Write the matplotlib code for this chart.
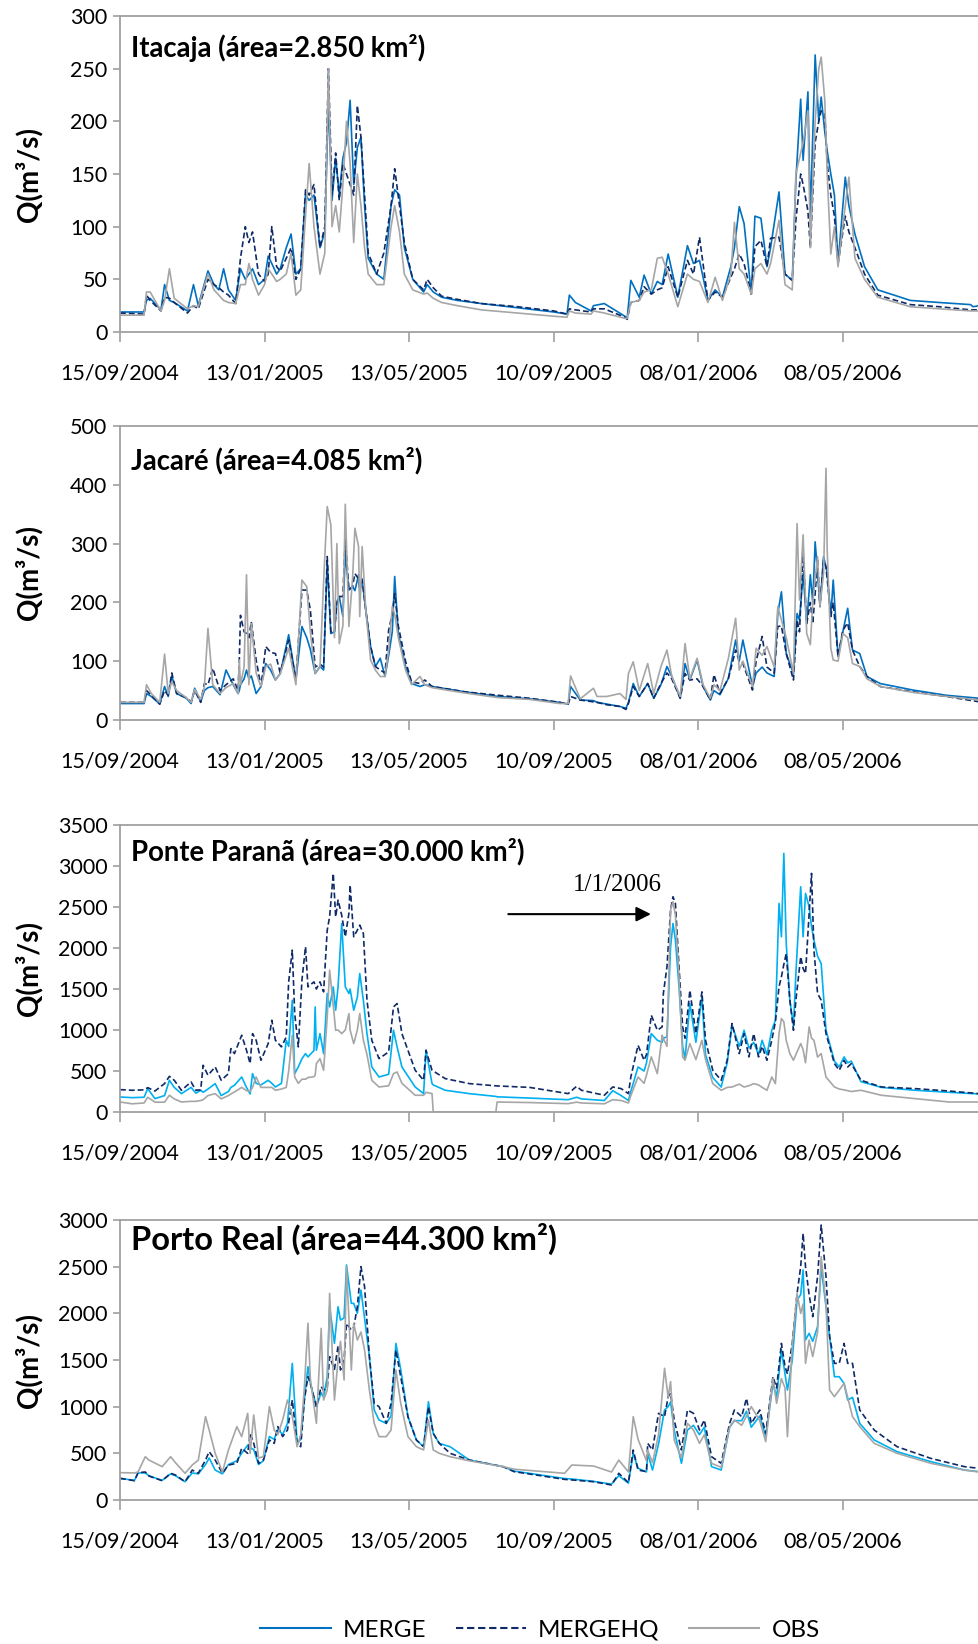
import numpy as np
import matplotlib
matplotlib.use("Agg")
import matplotlib.pyplot as plt
import matplotlib.dates as mdates
from matplotlib.lines import Line2D

plt.rcParams['font.family'] = ['Lato', 'DejaVu Sans']

inicio = np.datetime64('2004-09-15')
n_dias = 713

# --- Itacaja ---
ita_dias = [0, 20, 22, 25, 34, 37, 41, 45, 56, 61, 65, 73, 78, 82, 86, 90, 96, 100, 104, 107,
            110, 115, 120, 123, 126, 130, 133, 138, 142, 146, 150, 154, 157, 161, 166, 170, 173, 176, 179, 182,
            185, 188, 191, 194, 197, 200, 203, 206, 213, 219, 225, 228, 232, 236, 243, 252, 255, 260, 267, 280,
            300, 330, 360, 371, 373, 378, 391, 393, 402, 419, 421, 424, 431, 435, 441, 446, 450, 455, 463, 471,
            476, 481, 488, 494, 500, 507, 510, 514, 518, 524, 527, 532, 537, 540, 547, 552, 558, 561, 565, 567,
            571, 573, 577, 580, 582, 585, 587, 590, 593, 596, 602, 605, 610, 618, 629, 656, 680, 706, 708, 713]
ita_merge = [19, 19, 30, 32, 21, 45, 30, 28, 20, 45, 25, 58, 45, 40, 60, 40, 30, 60, 50, 55,
             60, 45, 50, 72, 65, 55, 60, 80, 93, 55, 60, 130, 125, 130, 80, 95, 220, 125, 165, 130,
             165, 180, 220, 140, 175, 185, 120, 70, 55, 50, 120, 135, 130, 80, 50, 38, 45, 38, 33, 30,
             27, 23, 19, 17, 35, 28, 20, 25, 27, 15, 13, 49, 33, 54, 36, 48, 45, 74, 33, 82,
             65, 68, 30, 40, 33, 62, 80, 119, 103, 36, 110, 108, 62, 80, 133, 55, 49, 144, 221, 163,
             228, 109, 263, 200, 223, 190, 172, 150, 130, 65, 147, 120, 93, 62, 40, 30, 28, 26, 24, 25]
ita_mergehq = [18, 17, 35, 30, 20, 33, 32, 28, 18, 25, 22, 50, 45, 42, 38, 35, 27, 70, 100, 85,
               95, 55, 48, 55, 100, 62, 58, 70, 80, 50, 60, 135, 130, 140, 80, 100, 250, 130, 170, 125,
               160, 150, 140, 130, 215, 185, 130, 75, 55, 75, 120, 155, 120, 85, 50, 40, 50, 42, 34, 31,
               27, 24, 20, 17, 22, 21, 19, 22, 22, 14, 12, 28, 30, 43, 36, 40, 42, 62, 33, 68,
               55, 90, 30, 38, 33, 52, 60, 74, 65, 36, 81, 87, 62, 89, 90, 55, 49, 106, 150, 140,
               115, 80, 180, 200, 210, 207, 160, 130, 110, 65, 110, 95, 80, 55, 35, 26, 24, 21, 21, 21]
ita_obs = [16, 16, 38, 38, 20, 30, 60, 32, 22, 25, 24, 55, 40, 35, 30, 28, 27, 45, 45, 65,
           50, 35, 45, 60, 55, 48, 50, 55, 75, 35, 40, 110, 160, 100, 55, 75, 250, 100, 120, 95,
           140, 200, 160, 85, 150, 120, 80, 55, 45, 45, 100, 120, 95, 55, 40, 36, 37, 32, 28, 25,
           21, 18, 15, 14, 20, 18, 17, 20, 18, 13, 13, 28, 30, 38, 40, 70, 71, 55, 24, 55,
           50, 48, 28, 52, 30, 55, 104, 60, 55, 36, 60, 65, 55, 65, 106, 45, 40, 150, 170, 180,
           210, 80, 200, 250, 261, 220, 150, 74, 100, 62, 120, 147, 70, 50, 33, 24, 22, 20, 20, 20]

# --- Jacaré ---
jac_dias = [0, 20, 22, 26, 33, 37, 40, 43, 47, 55, 59, 62, 67, 70, 73, 77, 83, 88, 94, 98,
            99, 100, 103, 105, 107, 109, 113, 117, 121, 125, 129, 133, 140, 146, 151, 155, 158, 162, 166, 169,
            172, 175, 178, 180, 182, 185, 187, 190, 193, 195, 198, 199, 201, 204, 208, 212, 216, 220, 223, 226,
            228, 231, 237, 242, 249, 253, 259, 286, 314, 340, 365, 372, 374, 382, 393, 396, 404, 415, 420, 422,
            426, 431, 438, 443, 449, 454, 458, 465, 469, 473, 479, 484, 490, 493, 498, 505, 511, 514, 517, 525,
            528, 533, 537, 543, 546, 549, 553, 559, 562, 564, 567, 570, 573, 575, 577, 579, 581, 584, 586, 587,
            590, 592, 596, 600, 604, 608, 614, 620, 631, 658, 686, 713]
jac_merge = [28, 28, 45, 40, 27, 57, 40, 75, 45, 37, 28, 54, 31, 50, 55, 57, 43, 85, 60, 45,
             50, 60, 70, 85, 70, 75, 45, 57, 96, 85, 68, 79, 145, 68, 159, 140, 120, 79, 91, 85,
             270, 147, 150, 200, 210, 176, 283, 221, 227, 220, 247, 220, 240, 187, 125, 91, 105, 74, 110, 150,
             244, 147, 91, 62, 57, 60, 57, 48, 40, 36, 30, 27, 57, 34, 33, 30, 27, 23, 20, 30,
             62, 40, 62, 37, 60, 91, 74, 37, 96, 68, 102, 57, 34, 50, 43, 71, 136, 100, 136, 57,
             80, 90, 80, 74, 181, 218, 113, 79, 181, 170, 249, 164, 247, 200, 303, 250, 193, 278, 260, 249,
             176, 238, 108, 150, 190, 119, 113, 74, 62, 51, 42, 37]
jac_mergehq = [30, 30, 50, 42, 27, 50, 42, 80, 45, 38, 31, 50, 30, 62, 60, 88, 50, 60, 70, 50,
               100, 178, 150, 147, 140, 167, 102, 57, 125, 115, 113, 80, 136, 70, 221, 221, 187, 90, 95, 90,
               278, 150, 150, 200, 210, 210, 309, 221, 227, 249, 240, 220, 238, 187, 125, 91, 85, 80, 153, 180,
               215, 160, 100, 65, 62, 68, 57, 48, 42, 37, 30, 27, 40, 34, 31, 30, 26, 23, 18, 28,
               57, 40, 62, 37, 62, 80, 70, 37, 79, 68, 70, 57, 34, 77, 45, 71, 119, 100, 96, 51,
               100, 142, 90, 80, 159, 160, 113, 68, 170, 150, 283, 164, 200, 164, 215, 272, 193, 272, 260, 240,
               176, 200, 108, 153, 165, 119, 91, 74, 57, 48, 40, 31]
jac_obs = [30, 30, 60, 45, 30, 112, 45, 65, 50, 38, 30, 52, 35, 55, 156, 60, 45, 55, 62, 45,
           102, 60, 90, 247, 60, 164, 80, 57, 91, 95, 68, 79, 122, 60, 238, 227, 150, 79, 90, 235,
           363, 332, 140, 300, 130, 160, 367, 159, 240, 326, 295, 176, 295, 187, 102, 85, 74, 74, 120, 193,
           180, 140, 85, 60, 74, 60, 55, 46, 38, 35, 28, 28, 75, 36, 54, 40, 40, 45, 35, 79,
           99, 50, 96, 45, 91, 119, 74, 40, 130, 70, 105, 60, 37, 60, 50, 105, 173, 85, 100, 57,
           122, 110, 125, 90, 193, 170, 140, 80, 334, 204, 315, 147, 128, 200, 240, 278, 193, 250, 428, 289,
           122, 102, 100, 147, 140, 96, 91, 70, 57, 47, 40, 34]

# --- Ponte Paranã ---
pp_dias = [0, 10, 20, 23, 29, 37, 41, 45, 51, 59, 63, 67, 69, 73, 79, 84, 90, 92, 95, 101,
           105, 108, 110, 113, 117, 123, 126, 129, 134, 138, 140, 143, 145, 148, 151, 154, 156, 161, 162, 163,
           166, 169, 172, 174, 177, 179, 181, 184, 187, 190, 191, 194, 197, 199, 202, 205, 209, 215, 223, 227,
           230, 234, 245, 252, 254, 259, 260, 270, 290, 312, 313, 340, 372, 379, 383, 402, 409, 416, 422, 424,
           430, 435, 437, 441, 446, 450, 451, 454, 457, 459, 461, 464, 467, 469, 473, 478, 483, 486, 492, 499,
           504, 508, 514, 518, 522, 526, 530, 533, 537, 541, 544, 547, 549, 551, 553, 556, 559, 561, 565, 567,
           569, 572, 574, 576, 579, 582, 586, 593, 597, 601, 604, 607, 615, 632, 660, 688, 713]
pp_merge = [183, 175, 180, 285, 163, 200, 387, 300, 224, 300, 230, 265, 240, 280, 346, 200, 250, 300, 326, 427,
            300, 220, 468, 350, 330, 387, 350, 305, 350, 875, 800, 1363, 468, 549, 650, 712, 672, 750, 1282, 753,
            956, 712, 1445, 1282, 1526, 1241, 1526, 2300, 1526, 1445, 1500, 1241, 1400, 1689, 1363, 956, 549, 427, 460, 997,
            794, 549, 305, 224, 753, 346, 330, 265, 224, 190, 185, 170, 150, 180, 160, 140, 260, 200, 140, 250,
            549, 500, 600, 956, 875, 850, 900, 916, 2015, 2300, 2096, 1526, 800, 650, 1323, 850, 1400, 700, 420, 305,
            600, 1060, 800, 997, 780, 850, 700, 875, 700, 997, 1119, 2544, 2137, 3154, 2055, 1363, 1050, 1689, 2747, 2137,
            2666, 2503, 2259, 2096, 1900, 1811, 1000, 620, 550, 672, 600, 620, 370, 300, 265, 240, 220]
pp_mergehq = [273, 265, 270, 297, 256, 346, 435, 387, 265, 366, 265, 270, 570, 448, 550, 387, 468, 773, 712, 936,
              753, 590, 956, 875, 631, 834, 1119, 875, 794, 916, 1587, 1974, 1200, 794, 1607, 2015, 1526, 1587, 1550, 1500,
              1587, 1465, 2218, 2381, 2910, 2381, 2584, 2401, 2137, 2422, 2768, 2137, 2218, 2279, 2177, 1363, 875, 651, 733, 1282,
              1322, 956, 509, 387, 753, 509, 500, 407, 346, 320, 318, 300, 224, 313, 265, 204, 305, 285, 224, 427,
              814, 631, 700, 1180, 997, 1038, 1445, 1770, 2462, 2625, 2544, 1770, 1038, 900, 1485, 956, 1465, 875, 509, 387,
              631, 1079, 712, 956, 672, 956, 672, 800, 631, 875, 1100, 1526, 1648, 1800, 1933, 1363, 997, 1363, 1893, 1750,
              1689, 2422, 2910, 1974, 1445, 1363, 956, 590, 509, 631, 549, 590, 387, 305, 285, 256, 224]
pp_obs = [122, 100, 110, 180, 120, 120, 204, 160, 122, 130, 130, 140, 150, 200, 224, 160, 200, 220, 244, 300,
          260, 250, 300, 427, 300, 300, 300, 265, 280, 300, 500, 936, 427, 350, 400, 400, 420, 430, 450, 590,
          651, 509, 1160, 1730, 1300, 997, 1000, 956, 1000, 1200, 1000, 834, 1000, 1200, 875, 700, 387, 305, 320, 468,
          488, 350, 204, 204, 240, 224, 0, 0, 0, 0, 122, 115, 102, 120, 110, 100, 150, 140, 110, 200,
          427, 350, 450, 672, 468, 936, 900, 800, 2462, 2564, 2400, 1650, 672, 631, 834, 640, 875, 640, 346, 265,
          300, 305, 340, 305, 320, 346, 330, 300, 265, 427, 346, 956, 1140, 1100, 875, 712, 631, 700, 834, 760,
          600, 1038, 900, 875, 670, 712, 427, 305, 280, 270, 260, 250, 265, 204, 163, 122, 122]

# --- Porto Real ---
pr_dias = [0, 12, 15, 21, 24, 35, 42, 46, 54, 60, 65, 71, 74, 79, 85, 90, 97, 101, 106, 108,
           111, 115, 119, 124, 128, 131, 135, 139, 143, 147, 150, 153, 156, 158, 163, 167, 169, 172, 174, 178,
           181, 183, 186, 188, 192, 194, 197, 200, 203, 207, 211, 215, 221, 225, 229, 233, 239, 246, 252, 256,
           260, 265, 274, 290, 318, 327, 369, 375, 393, 408, 414, 422, 426, 430, 437, 438, 442, 447, 452, 455,
           457, 460, 466, 471, 476, 481, 485, 491, 499, 506, 510, 516, 520, 524, 531, 536, 542, 545, 549, 552,
           554, 558, 562, 565, 567, 569, 572, 575, 579, 582, 586, 589, 593, 597, 601, 604, 608, 614, 626, 645,
           673, 701, 713]
pr_merge = [232, 210, 290, 290, 260, 210, 280, 260, 196, 290, 280, 380, 450, 321, 280, 380, 420, 500, 589, 560,
            540, 380, 420, 680, 650, 760, 700, 821, 1464, 607, 650, 1071, 1428, 1250, 1000, 1150, 1100, 1321, 2071, 1678,
            2071, 1928, 1950, 2518, 2107, 2107, 2000, 2250, 1950, 1536, 964, 857, 821, 900, 1678, 1400, 893, 643, 571, 1053,
            714, 607, 571, 428, 357, 310, 230, 225, 200, 170, 260, 180, 500, 340, 300, 500, 321, 600, 964, 1000,
            1050, 750, 393, 750, 800, 700, 780, 357, 321, 780, 850, 850, 950, 780, 900, 680, 1250, 1100, 1607, 1350,
            1178, 1500, 2143, 2200, 2464, 1714, 1786, 1700, 1857, 2500, 2071, 1750, 1321, 1321, 1250, 1071, 1100, 821, 643, 518,
            411, 321, 304]
pr_mergehq = [232, 207, 293, 300, 257, 207, 286, 268, 196, 321, 286, 428, 518, 428, 286, 375, 393, 554, 500, 714,
              607, 393, 428, 643, 607, 786, 679, 750, 1071, 607, 571, 1071, 1321, 1250, 1000, 1214, 1178, 1200, 1536, 1400,
              1650, 1393, 1500, 1893, 1821, 1850, 2071, 2500, 2286, 1536, 1036, 1000, 821, 1036, 1607, 1321, 893, 643, 571, 1000,
              714, 607, 500, 428, 357, 304, 221, 215, 196, 161, 286, 186, 536, 321, 304, 607, 536, 929, 893, 1107,
              1143, 857, 536, 964, 929, 750, 857, 464, 393, 821, 964, 893, 1089, 821, 964, 714, 1321, 1200, 1678, 1428,
              1350, 1678, 2214, 2500, 2857, 2500, 2200, 1964, 2393, 2946, 2393, 1750, 1464, 1464, 1678, 1464, 1464, 964, 750, 571,
              446, 357, 339]
pr_obs = [293, 290, 300, 464, 428, 357, 464, 400, 286, 375, 428, 893, 750, 500, 300, 536, 786, 679, 929, 500,
          911, 450, 464, 1000, 750, 700, 857, 1071, 900, 571, 700, 1200, 1893, 1300, 821, 1839, 1071, 1178, 2214, 1071,
          1500, 1700, 1286, 2500, 1393, 1893, 1714, 1800, 1607, 1178, 821, 679, 679, 750, 1393, 1036, 679, 571, 536, 857,
          536, 500, 464, 420, 357, 330, 286, 375, 364, 300, 428, 300, 893, 650, 420, 536, 400, 700, 1411, 1100,
          1268, 643, 450, 821, 750, 607, 700, 393, 350, 780, 857, 800, 900, 1000, 850, 625, 1300, 1036, 1300, 1200,
          679, 1650, 2214, 2000, 2100, 1464, 1714, 1536, 1800, 2607, 2100, 1178, 1107, 1178, 1250, 1100, 893, 786, 607, 500,
          393, 320, 300]

paineis = [
    ("Itacaja (área=2.850 km²)", ita_dias, ita_merge, ita_mergehq, ita_obs, 300, 50, '#0070C0', 19.8),
    ("Jacaré (área=4.085 km²)", jac_dias, jac_merge, jac_mergehq, jac_obs, 500, 100, '#0070C0', 19.8),
    ("Ponte Paranã (área=30.000 km²)", pp_dias, pp_merge, pp_mergehq, pp_obs, 3500, 500, '#00B0F0', 19.8),
    ("Porto Real (área=44.300 km²)", pr_dias, pr_merge, pr_mergehq, pr_obs, 3000, 500, '#00B0F0', 23.5),
]

# posicoes em pixels (topo, base) de cada painel
caixas = [(16, 332), (426, 720), (825, 1112), (1220, 1500)]
titulo_y = [0.90, 0.881, 0.906, 0.932]

W, H = 979, 1644
fig = plt.figure(figsize=(W / 100, H / 100), dpi=100)
cinza = '#A0A0A0'
cor_hq = '#0F2A66'
cor_obs = '#A6A6A6'

ticks = [inicio + np.timedelta64(120 * k, 'D') for k in range(6)]

for i, (titulo, dias, merge, mergehq, obs, ymax, ystep, cor_merge, fs_tit) in enumerate(paineis):
    topo, base = caixas[i]
    ax = fig.add_axes([120 / W, 1 - base / H, (W - 120) / W, (base - topo) / H])
    x = inicio + np.array(dias).astype('timedelta64[D]')
    ax.plot(x, merge, color=cor_merge, lw=1.2)
    ax.plot(x, mergehq, color=cor_hq, lw=1.2, dashes=(3.5, 1.8))
    ax.plot(x, obs, color=cor_obs, lw=1.2)

    ax.set_xlim(inicio, inicio + np.timedelta64(n_dias, 'D'))
    ax.set_ylim(0, ymax)
    ax.set_yticks(np.arange(0, ymax + 1, ystep))
    ax.set_xticks(ticks)
    ax.xaxis.set_major_formatter(mdates.DateFormatter('%d/%m/%Y'))
    ax.tick_params(axis='x', direction='out', length=7, width=1.2, color=cinza, pad=16, labelsize=15.5)
    ax.tick_params(axis='y', direction='out', length=5, width=1.2, color=cinza, pad=4, labelsize=15.5)
    for s in ax.spines.values():
        s.set_color(cinza)
        s.set_linewidth(1.3)

    ax.set_ylabel("Q(m³/s)", fontsize=20, fontweight='bold')
    ax.yaxis.set_label_coords(-0.09, 0.5)
    ax.text(0.013, titulo_y[i], titulo, transform=ax.transAxes, fontsize=fs_tit,
            fontweight='bold', va='center', ha='left')

    if i == 2:
        ax.annotate('', xy=(inicio + np.timedelta64(443, 'D'), 2413),
                    xytext=(inicio + np.timedelta64(320, 'D'), 2413),
                    arrowprops=dict(arrowstyle='-|>', color='black', lw=1.5, mutation_scale=22))
        ax.text(inicio + np.timedelta64(413, 'D'), 2770, "1/1/2006", fontsize=18,
                family=['Liberation Serif', 'DejaVu Serif'], ha='center', va='center')

handles = [Line2D([], [], color='#0070C0', lw=1.5),
           Line2D([], [], color=cor_hq, lw=1.5, dashes=(3.5, 1.8)),
           Line2D([], [], color=cor_obs, lw=1.5)]
fig.legend(handles, ['MERGE', 'MERGEHQ', 'OBS'], loc='center', bbox_to_anchor=(540 / W, 1 - 1630 / H),
           ncol=3, frameon=False, fontsize=17.5, handlelength=2.9, columnspacing=1.2, handletextpad=0.5,
           borderpad=0.1)

fig.savefig('out.png', dpi=100)
